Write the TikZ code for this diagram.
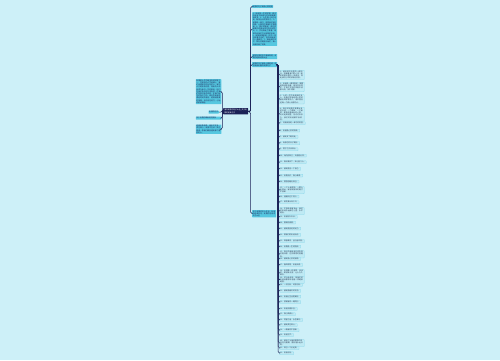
\documentclass[tikz,border=0pt]{standalone}
\usepackage{fontspec}
\newfontfamily\cjk{Noto Sans CJK SC}
\XeTeXlinebreaklocale "zh"
\XeTeXlinebreakskip=0pt plus 0.5pt
\definecolor{bgc}{HTML}{CDF0F8}
\definecolor{navy}{HTML}{1B2257}
\definecolor{lvone}{HTML}{55C7E0}
\definecolor{lvtwo}{HTML}{BFEAF4}
\definecolor{lvtwob}{HTML}{86D5E9}
\definecolor{txt}{HTML}{2A3A55}
\tikzset{
  base/.style={anchor=north west, inner sep=0.6pt, align=left, font=\cjk\fontsize{1.8}{2.2}\selectfont, rounded corners=0.4pt},
  ctr/.style={base, fill=navy, text=white, inner sep=1.1pt},
  lone/.style={base, fill=lvone, text=navy},
  ltwo/.style={base, fill=lvtwo, draw=lvtwob, line width=0.25pt, text=txt},
  conn/.style={draw=navy, line width=0.55pt, rounded corners=1.5pt},
}
\begin{document}
\begin{tikzpicture}[x=1pt,y=-1pt]
\fill[bgc] (0,0) rectangle (500,360);
\useasboundingbox (0,0) rectangle (500,360);

% central
\node[ctr, text width=22.8pt] (c) at (223,108) {描写友情的句子大全\_关于友情的优美句子};

% left branch
\node[lone, anchor=north east, text width=24.3pt] (l1) at (221.5,79) {友情是人生中最宝贵的财富之一。在漫长的人生道路上，我们会遇到形形色色的人，有的人只是匆匆过客，而有的人却会成为我们一生的挚友。他们在我们快乐时分享喜悦，在我们悲伤时给予安慰，在我们迷茫时指引方向。真正的友谊经得起时间的考验，经得起距离的阻隔，无论身在何方，心始终紧紧相连。};
\node[lone, anchor=north east] (l2) at (219,110.5) {友情的句子};
\node[lone, anchor=north east, text width=24.3pt] (l3) at (221.5,116.5) {关于友情的唯美短句摘抄};
\node[lone, anchor=north east, text width=24.3pt] (l4) at (221.5,124.3) {经典友情语录：朋友不在多，贵在知心；友情不在浓，贵在真诚。愿我们都能遇到那个懂你的人。};

% right first level
\node[lone] (t1) at (252,4.8) {友情的句子说说心情短语};
\node[lone, text width=23.8pt] (t2) at (252,12) {1、朋友是一生的财富，真正的友谊不会因为时间和距离而改变。2、人生得一知己足矣，斯世当以同怀视之。3、友情是一盏灯，照亮我们前行的路，让我们在黑暗中不再孤单。4、真正的朋友，是在你需要的时候出现在你身边的人。5、岁月带走了青春，却带不走我们之间深厚的友谊。6、朋友就像星星，你不一定总能看见他们，但你知道他们一直都在。7、有朋友的日子，阳光总是格外灿烂，每一天都充满了欢笑。};
\node[lone, text width=23.8pt] (t3) at (252,53.8) {描写友情的句子唯美简短，友情的经典语录大全};
\node[lone, text width=23.8pt] (t4) at (252,61.8) {友情的句子说说心情短语，适合发朋友圈的友情句子};
\node[lone, text width=22.8pt] (t5) at (252,209.8) {关于友情的名人名言，友谊的经典名句，友情的古诗词句子大全};

% right column
\node[ltwo, text width=23.3pt] (r1) at (279.5,70) {1、朋友是冬日里的一缕阳光，温暖着我们的心房；朋友是夏日里的一阵清风，吹走我们心中的烦恼与忧愁。};
\node[ltwo, text width=23.3pt] (r2) at (279.5,82) {2、友谊是一棵常青树，需要用真诚去浇灌，用信任去呵护，才能在岁月的风雨中枝繁叶茂，永不凋零。};
\node[ltwo, text width=23.3pt] (r3) at (279.5,94.3) {3、人的一生中会遇到许多人，但真正能够走进心里的朋友却寥寥无几，请珍惜身边每一个真心待你的人。};
\node[ltwo, text width=23.3pt] (r4) at (279.5,107) {4、真正的友情不需要太多的言语，一个眼神，一个微笑，便能读懂彼此的心意。无论走到哪里，无论过去多久，我们的友谊都不会改变。};
\node[ltwo] (r5) at (279.5,121.7) {5、好朋友就是一辈子的财富。};
\node[ltwo] (r6) at (279.5,129) {6、友谊是心灵的桥梁。};
\node[ltwo] (r7) at (279.5,135.3) {7、朋友多了路好走。};
\node[ltwo] (r8) at (279.5,141.7) {8、有你在的日子真好。};
\node[ltwo] (r9) at (279.5,147.7) {9、君子之交淡如水。};
\node[ltwo] (r10) at (279.5,154) {10、海内存知己，天涯若比邻。};
\node[ltwo] (r11) at (279.5,160.7) {11、相识满天下，知心能几人。};
\node[ltwo] (r12) at (279.5,167.3) {12、朋友是另一个自己。};
\node[ltwo] (r13) at (279.5,174) {13、友情无价，真心难得。};
\node[ltwo] (r14) at (279.5,180) {14、莫愁前路无知己。};
\node[ltwo, text width=23.3pt] (r15) at (279.5,186.3) {15、一个人走得快，一群人走得远，有朋友相伴的路才不孤单。};
\node[ltwo] (r16) at (279.5,195) {16、酒逢知己千杯少。};
\node[ltwo] (r17) at (279.5,200.7) {17、桃花潭水深千尺。};
\node[ltwo, text width=23.3pt] (r18) at (279.5,207.3) {18、不管未来有多远，我们的友谊永远都在心里，永不褪色。};
\node[ltwo] (r19) at (279.5,215.3) {19、友谊地久天长。};
\node[ltwo] (r20) at (279.5,221) {20、患难见真情。};
\node[ltwo] (r21) at (279.5,227) {21、朋友是前进的动力。};
\node[ltwo] (r22) at (279.5,233.3) {22、愿我们的友谊长存。};
\node[ltwo] (r23) at (279.5,239.5) {23、知音难觅，且行且珍惜。};
\node[ltwo] (r24) at (279.5,245) {24、友情是一生的陪伴。};
\node[ltwo, text width=23.3pt] (r25) at (279.5,250.5) {25、真正的朋友会在你失意时陪伴你，在你得意时提醒你。};
\node[ltwo] (r26) at (279.5,257.3) {26、朋友是心灵的港湾。};
\node[ltwo] (r27) at (279.5,263.3) {27、春风得意，友谊长青。};
\node[ltwo, text width=23.3pt] (r28) at (279.5,269.3) {28、友情像一杯清茶，淡淡的，却回味无穷，让人久久难忘。};
\node[ltwo, text width=23.3pt] (r29) at (279.5,276) {29、时光会老去，但我们的友谊会像陈年老酒一样越来越香。};
\node[ltwo] (r30) at (279.5,283.3) {30、一日为友，终身为友。};
\node[ltwo] (r31) at (279.5,289.3) {31、朋友是最好的礼物。};
\node[ltwo] (r32) at (279.5,295) {32、友谊让生活更美好。};
\node[ltwo] (r33) at (279.5,300.5) {33、感谢有你一路同行。};
\node[ltwo] (r34) at (279.5,307.3) {34、友谊无需多言。};
\node[ltwo] (r35) at (279.5,312.7) {35、真心换真心。};
\node[ltwo] (r36) at (279.5,318.3) {36、同窗之谊，永生难忘。};
\node[ltwo] (r37) at (279.5,323.5) {37、朋友贵在知心。};
\node[ltwo] (r38) at (279.5,328.7) {38、一路有你不孤单。};
\node[ltwo] (r39) at (279.5,333.5) {39、友谊万岁。};
\node[ltwo, text width=23.3pt] (r40) at (279.5,339.3) {40、朋友之间最重要的是信任与理解，愿友谊永远长青。};
\node[ltwo] (r41) at (279.5,346.5) {41、知己一个也足矣。};
\node[ltwo] (r42) at (279.5,351.7) {42、友谊永存。};

% connectors
\coordinate (cr) at (250.6,112);
\coordinate (cl) at (222.3,112);
\coordinate (pr) at (278.2,64);
\foreach \t in {t1,t2,t3,t4,t5} \draw[conn] (c.east) -- (cr) |- (\t.west);
\foreach \t in {l1,l2,l3,l4} \draw[conn] (c.west) -- (cl) |- (\t.east);
\foreach \i in {1,...,42} \draw[conn, line width=0.45pt] (t4.east) -- (pr) |- (r\i.west);
\end{tikzpicture}
\end{document}
